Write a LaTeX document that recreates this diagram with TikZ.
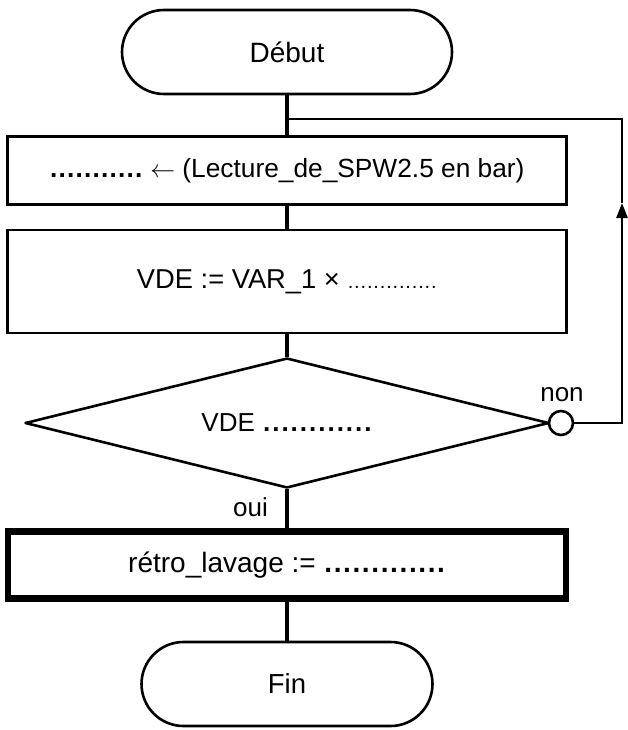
\documentclass[tikz,border=0pt]{standalone}
\usepackage{fontspec}
\setmainfont{Liberation Sans}
\usetikzlibrary{shapes.misc,shapes.geometric,arrows.meta}
\newcount\mydotc
\newcommand\dotrow[3]{\mydotc=0 \loop\makebox[#2]{#3.}\advance\mydotc by 1 \ifnum\mydotc<#1\repeat}
\begin{document}
\begin{tikzpicture}[x=1pt,y=-1pt,
  base/.style={draw,line width=2.6pt,inner sep=0pt,align=center},
  term/.style={base,rounded rectangle,minimum height=84pt},
  proc/.style={base,rectangle,minimum width=559pt},
  trunk/.style={line width=4.5pt},
  thinline/.style={line width=2.6pt},
  lbl/.style={inner sep=0pt,font=\fontsize{26}{31}\selectfont}]
\useasboundingbox (0,0) rectangle (627,730);
\node[term,minimum width=330pt,font=\fontsize{28}{34}\selectfont] (debut) at (287,52) {Début};
\node[proc,minimum height=68pt,font=\fontsize{26.3}{32}\selectfont] (b1) at (287,170.5)
  {\dotrow{11}{8.5pt}{\bfseries} $\leftarrow$ (Lecture\_de\_SPW2.5 en bar)};
\node[proc,minimum height=103pt,font=\fontsize{27.3}{33}\selectfont] (b2) at (287,281.5)
  {VDE := VAR\_1 × \dotrow{14}{6.4pt}{\fontsize{20}{24}\selectfont}};
\node[base,diamond,shape aspect=4.03,line join=round,minimum width=524pt,minimum height=130pt,font=\fontsize{26}{31}\selectfont] (dec) at (287,423)
  {VDE \dotrow{12}{9.2pt}{\bfseries}};
\node[base,circle,minimum size=24pt,fill=white] (circ) at (561,423) {};
\node[proc,line width=6.5pt,minimum width=558pt,minimum height=67pt,font=\fontsize{28}{34}\selectfont] (b3) at (287,565)
  {rétro\_lavage := \dotrow{13}{9.4pt}{\bfseries}};
\node[term,minimum width=291pt,font=\fontsize{27.5}{33}\selectfont] (fin) at (287,684) {Fin};
\node[lbl] (non) at (562,395) {non};
\node[lbl,anchor=east] (oui) at (268,507) {oui};
\draw[trunk] (debut.south) -- (b1.north);
\draw[trunk] (b1.south) -- (b2.north);
\draw[trunk] (b2.south) -- (dec.north);
\draw[trunk] (dec.south) -- (b3.north);
\draw[trunk] (b3.south) -- (fin.north);
\coordinate (lc1) at (622,423);
\coordinate (larr) at (622,203);
\coordinate (lc2) at (622,119);
\coordinate (lj) at (287,119);
\draw[thinline,-{Triangle[length=15pt,width=11pt]}] (circ.east) -- (lc1) -- (larr);
\draw[thinline] (larr) -- (lc2) -- (lj);
\end{tikzpicture}
\end{document}
